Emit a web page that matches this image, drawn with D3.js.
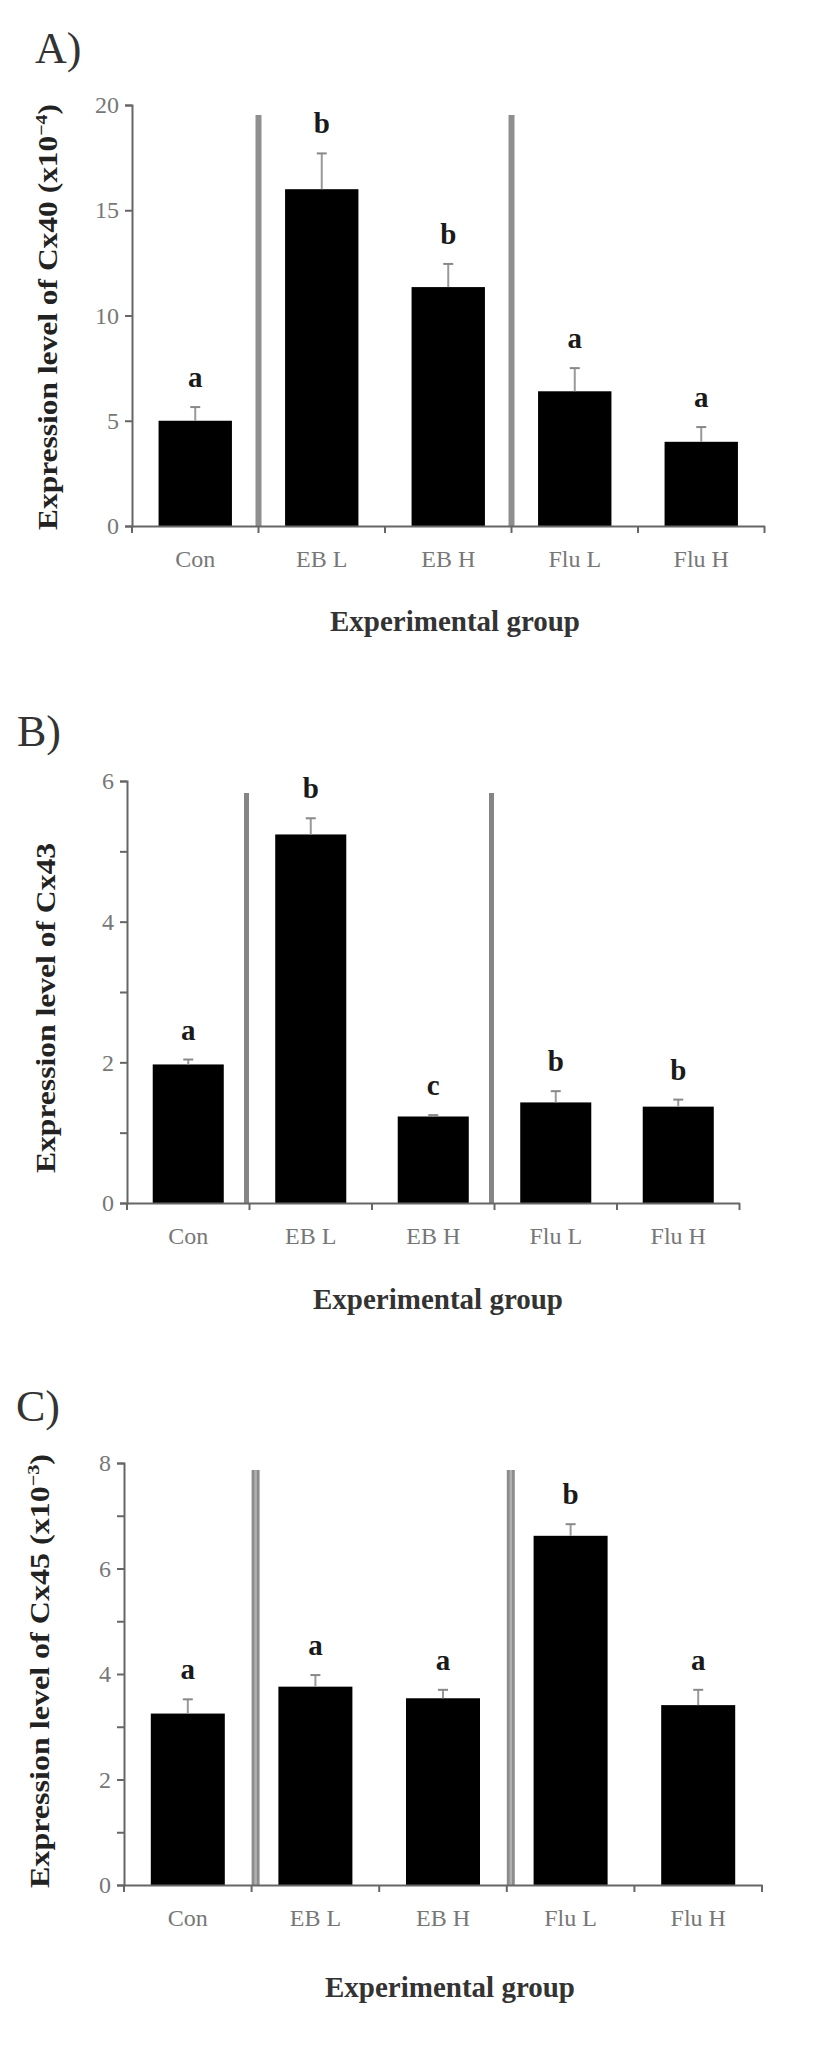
<!DOCTYPE html>
<html><head><meta charset="utf-8">
<script src="https://cdn.jsdelivr.net/npm/d3@7"></script>
<style>body{margin:0;background:#fff}svg{display:block}</style>
</head><body>
<script>
const categories = ["Con", "EB L", "EB H", "Flu L", "Flu H"];
const cx40Values = [5.0, 16.0, 11.35, 6.4, 4.0];
const cx40Errors = [0.65, 1.7, 1.1, 1.1, 0.7];
const cx40Letters = ["a", "b", "b", "a", "a"];
const cx40Ticks = [0, 5, 10, 15, 20];
const cx43Values = [1.97, 5.24, 1.23, 1.43, 1.37];
const cx43Errors = [0.07, 0.23, 0.02, 0.16, 0.1];
const cx43Letters = ["a", "b", "c", "b", "b"];
const cx43Ticks = [0, 1, 2, 3, 4, 5, 6];
const cx45Values = [3.25, 3.76, 3.54, 6.62, 3.41];
const cx45Errors = [0.27, 0.22, 0.16, 0.22, 0.29];
const cx45Letters = ["a", "a", "a", "b", "a"];
const cx45Ticks = [0, 1, 2, 3, 4, 5, 6, 7, 8];
const xTitle = "Experimental group";

const panels = [
  {tag:"A)", tagX:35, tagY:63, values:cx40Values, errors:cx40Errors, letters:cx40Letters, ticks:cx40Ticks, max:20, labelEvery:5,
   yTitle:["Expression level of Cx40 (x10","−4",")"], yTitleLen:426, yTitleX:57, yTitleY:317,
   x0:132, x1:764.5, yBase:526, yTop:105, sepTop:115, sepW:6, sepC:"#8f8f8f", sepInner:null, sepOff:0, xTitleX:455, xTitleY:631},
  {tag:"B)", tagX:17, tagY:746, values:cx43Values, errors:cx43Errors, letters:cx43Letters, ticks:cx43Ticks, max:6, labelEvery:2,
   yTitle:["Expression level of Cx43"], yTitleLen:330, yTitleX:55, yTitleY:1008,
   x0:127, x1:739.5, yBase:1203, yTop:781, sepTop:793, sepW:5, sepC:"#858585", sepInner:null, sepOff:-3, xTitleX:438, xTitleY:1309},
  {tag:"C)", tagX:16, tagY:1421, values:cx45Values, errors:cx45Errors, letters:cx45Letters, ticks:cx45Ticks, max:8, labelEvery:2,
   yTitle:["Expression level of Cx45 (x10","−3",")"], yTitleLen:434, yTitleX:49, yTitleY:1671,
   x0:124, x1:762, yBase:1885, yTop:1463, sepTop:1470, sepW:8, sepC:"#8c8c8c", sepInner:"#b0b0b0", sepOff:4, xTitleX:450, xTitleY:1997}
];

const svg = d3.select("body").append("svg").attr("width", 827).attr("height", 2048);
const serif = "'Liberation Serif','Times New Roman',serif";

panels.forEach(p => {
  const g = svg.append("g");
  const x = d3.scaleBand().domain(categories).range([p.x0, p.x1]).paddingInner(0.42).paddingOuter(0.21);
  const y = d3.scaleLinear().domain([0, p.max]).range([p.yBase, p.yTop]);
  const step = x.step();
  const bw = x.bandwidth();

  // panel tag
  g.append("text").attr("x", p.tagX).attr("y", p.tagY).attr("font-family", serif)
    .attr("font-size", 44).attr("fill", "#333").text(p.tag);

  // separators
  [1, 3].forEach(i => {
    const sx = x(categories[i]) - step * 0.21 + p.sepOff;
    g.append("line").attr("x1", sx).attr("x2", sx).attr("y1", p.sepTop).attr("y2", p.yBase)
      .attr("stroke", p.sepC).attr("stroke-width", p.sepW);
    if (p.sepInner) {
      g.append("line").attr("x1", sx).attr("x2", sx).attr("y1", p.sepTop).attr("y2", p.yBase)
        .attr("stroke", p.sepInner).attr("stroke-width", 2.5);
    }
  });

  // bars
  g.selectAll("rect.bar").data(p.values).join("rect").attr("class", "bar")
    .attr("x", (d, i) => x(categories[i])).attr("width", bw)
    .attr("y", d => y(d)).attr("height", d => y(0) - y(d)).attr("fill", "#000");

  // error bars
  p.values.forEach((v, i) => {
    const cx = x(categories[i]) + bw / 2;
    const top = y(v + p.errors[i]);
    g.append("line").attr("x1", cx).attr("x2", cx).attr("y1", y(v)).attr("y2", top)
      .attr("stroke", "#999").attr("stroke-width", 2);
    g.append("line").attr("x1", cx - 5).attr("x2", cx + 5).attr("y1", top).attr("y2", top)
      .attr("stroke", "#888").attr("stroke-width", 2);
    g.append("text").attr("x", cx).attr("y", top - 20).attr("text-anchor", "middle")
      .attr("font-family", serif).attr("font-weight", "bold").attr("font-size", 29)
      .attr("fill", "#1a1a1a").text(p.letters[i]);
  });

  // y axis
  const yAxis = d3.axisLeft(y).tickValues(p.ticks).tickSize(7).tickPadding(6)
    .tickFormat(d => d % p.labelEvery === 0 ? d : "");
  const ya = g.append("g").attr("transform", `translate(${p.x0},0)`).call(yAxis);
  ya.select(".domain").attr("stroke", "#666").attr("stroke-width", 2);
  ya.selectAll(".tick line").attr("stroke", "#666").attr("stroke-width", 2);
  ya.selectAll(".tick text").attr("font-family", serif).attr("font-size", 24).attr("fill", "#777");

  // x axis
  const xa = g.append("g").attr("transform", `translate(0,${p.yBase})`)
    .call(d3.axisBottom(x).tickSize(0).tickPadding(24));
  xa.select(".domain").attr("stroke", "#666").attr("stroke-width", 2);
  xa.selectAll(".tick text").attr("font-family", serif).attr("font-size", 24).attr("fill", "#777");
  d3.range(6).forEach(k => {
    const tx = p.x0 + k * step;
    xa.append("line").attr("x1", tx).attr("x2", tx).attr("y1", 0).attr("y2", 7)
      .attr("stroke", "#666").attr("stroke-width", 2);
  });

  // x title
  g.append("text").attr("x", p.xTitleX).attr("y", p.xTitleY).attr("text-anchor", "middle")
    .attr("font-family", serif).attr("font-weight", "bold").attr("font-size", 29)
    .attr("fill", "#333").text(xTitle);

  // y title
  const yt = g.append("text").attr("transform", `translate(${p.yTitleX},${p.yTitleY}) rotate(-90)`)
    .attr("text-anchor", "middle").attr("font-family", serif).attr("font-weight", "bold")
    .attr("font-size", 27).attr("fill", "#222")
    .attr("textLength", p.yTitleLen).attr("lengthAdjust", "spacingAndGlyphs");
  yt.append("tspan").text(p.yTitle[0]);
  if (p.yTitle.length > 1) {
    yt.append("tspan").attr("dy", -10).attr("font-size", 17).text(p.yTitle[1]);
    yt.append("tspan").attr("dy", 10).text(p.yTitle[2]);
  }
});
</script>
</body></html>
